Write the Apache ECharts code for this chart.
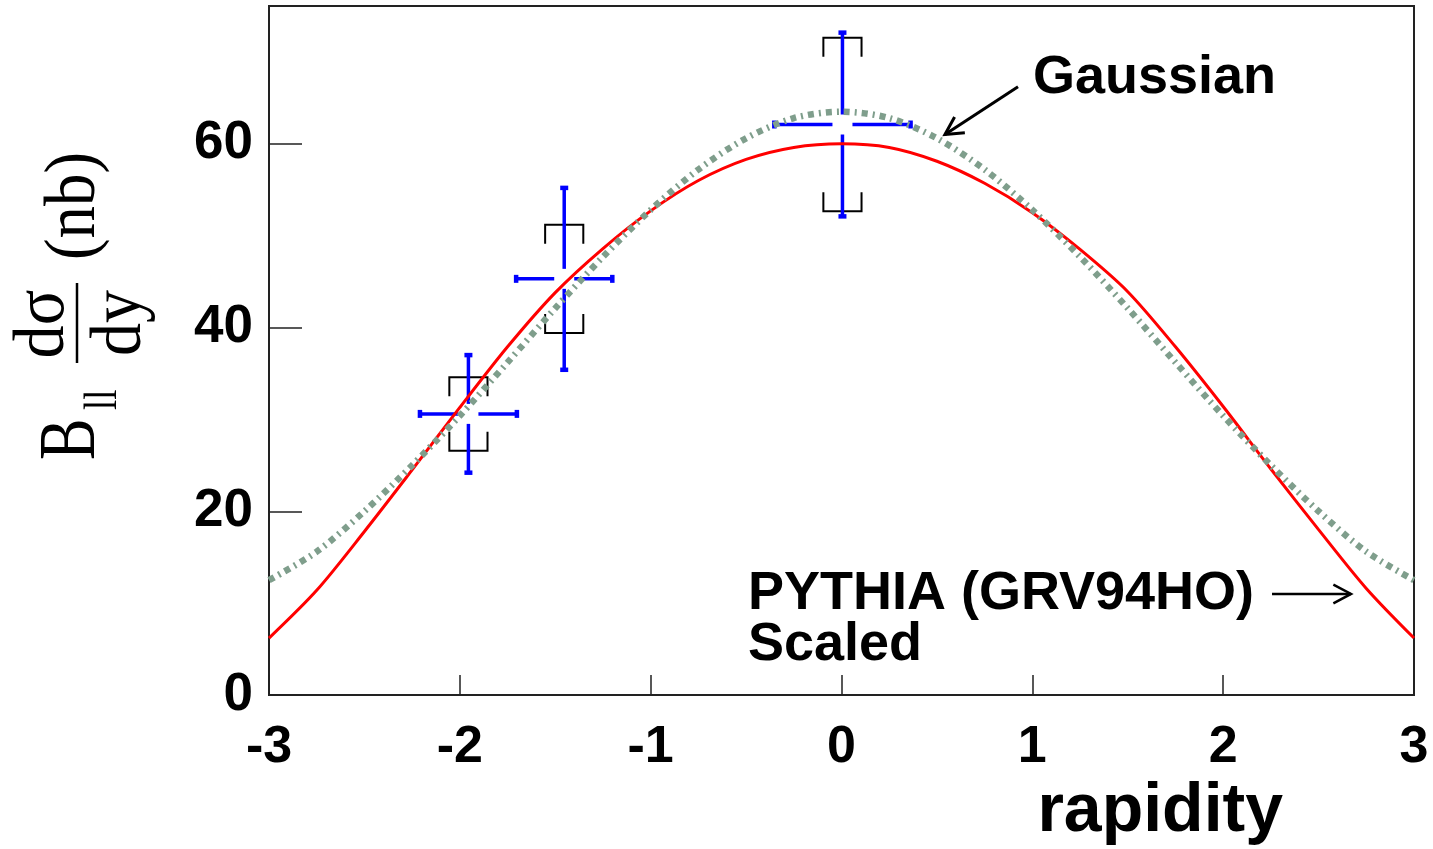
<!DOCTYPE html>
<html><head><meta charset="utf-8">
<script src="https://cdn.jsdelivr.net/npm/echarts@6/dist/echarts.min.js"></script>
<style>html,body{margin:0;padding:0;background:#fff;}#c{width:1433px;height:849px;}</style>
</head><body><div id="c"></div>
<script>
// ---- data ----
const curveX   = [-3,-2.75,-2.5,-2.25,-2,-1.75,-1.5,-1.25,-1,-0.75,-0.5,-0.25,0,0.25,0.5,0.75,1,1.25,1.5,1.75,2,2.25,2.5,2.75,3];
const pythiaY  = [6.2,11.4,17.8,24.5,31.3,37.9,43.8,48.6,52.7,56.0,58.3,59.6,60.0,59.6,58.1,55.7,52.5,48.5,43.9,37.9,31.4,24.6,18.0,11.6,6.2];
const gaussY   = [12.5,15.6,20.0,25.0,30.4,36.2,42.1,47.7,52.8,57.2,60.6,62.8,63.5,62.8,60.6,57.2,52.8,47.7,42.1,36.2,30.4,25.0,20.0,15.6,12.5];
const pointX    = [-1.955,-1.453,0.005];
const pointY    = [30.6,45.3,62.1];
const pointXErr = [0.254,0.252,0.357];
const statErr   = [6.4,9.9,10.0];
const sysErr    = [4.0,5.9,9.45];
const xTicks = [-3,-2,-1,0,1,2,3];
const xTickLabels = ['-3','-2','-1','0','1','2','3'];
const yTicks = [0,20,40,60];
const yTickLabels = ['0','20','40','60'];
const xTitle = 'rapidity';
const gaussLabel = 'Gaussian';
const pythiaLabel1 = 'PYTHIA (GRV94HO)';
const pythiaLabel2 = 'Scaled';

const FONT = '"Liberation Sans", Arial, Helvetica, sans-serif';
const SERIF = '"Liberation Serif", "Times New Roman", serif';

const chart = echarts.init(document.getElementById('c'), null, {renderer:'canvas'});

function renderErr(params, api){
  const x = api.value(0), y = api.value(1), ex = api.value(2), es = api.value(3), esys = api.value(4);
  const c = api.coord([x,y]);
  const l = api.coord([x-ex,y]), r = api.coord([x+ex,y]);
  const t = api.coord([x,y+es]), b = api.coord([x,y-es]);
  const st = api.coord([x,y+esys]), sb = api.coord([x,y-esys]);
  const bw = api.size([0.1,0])[0];
  const gap = 10, cap = 4, arm = 19;
  const blue = {stroke:'#0000ff', lineWidth:3.5};
  const capS = {stroke:'#0000ff', lineWidth:4.5};
  const blk = {stroke:'#000', lineWidth:2, fill:null};
  const L = (x1,y1,x2,y2,s)=>({type:'line', shape:{x1,y1,x2,y2}, style:s});
  return {type:'group', children:[
    {type:'polyline', shape:{points:[[c[0]-bw, st[1]+arm],[c[0]-bw, st[1]],[c[0]+bw, st[1]],[c[0]+bw, st[1]+arm]]}, style:blk},
    {type:'polyline', shape:{points:[[c[0]-bw, sb[1]-arm],[c[0]-bw, sb[1]],[c[0]+bw, sb[1]],[c[0]+bw, sb[1]-arm]]}, style:blk},
    L(l[0],c[1],c[0]-gap,c[1],blue),
    L(c[0]+gap,c[1],r[0],c[1],blue),
    L(c[0],t[1],c[0],c[1]-gap,blue),
    L(c[0],c[1]+gap,c[0],b[1],blue),
    L(l[0],c[1]-cap,l[0],c[1]+cap,capS),
    L(r[0],c[1]-cap,r[0],c[1]+cap,capS),
    L(c[0]-cap,t[1],c[0]+cap,t[1],capS),
    L(c[0]-cap,b[1],c[0]+cap,b[1],capS)
  ]};
}

const option = {
  animation:false,
  backgroundColor:'#ffffff',
  grid:{left:269,right:19,top:6,bottom:154,show:true,borderColor:'#222',borderWidth:2,backgroundColor:'transparent'},
  xAxis:{
    type:'value',min:-3,max:3,interval:1,
    axisLine:{show:true,onZero:false,lineStyle:{color:'#222',width:2}},
    axisTick:{show:true,inside:true,length:20,lineStyle:{color:'#222',width:1.5},customValues:xTicks},
    axisLabel:{fontFamily:FONT,fontWeight:'bold',fontSize:52,color:'#000',margin:27,customValues:xTicks,
      formatter:v=>{const i=xTicks.indexOf(v);return i>=0?xTickLabels[i]:'';}},
    splitLine:{show:false}
  },
  yAxis:{
    type:'value',min:0,max:75,interval:20,
    axisLine:{show:true,onZero:false,lineStyle:{color:'#222',width:2}},
    axisTick:{show:true,inside:true,length:33,lineStyle:{color:'#222',width:1.5},customValues:yTicks},
    axisLabel:{fontFamily:FONT,fontWeight:'bold',fontSize:53,color:'#000',margin:16,customValues:yTicks,
      formatter:v=>{const i=yTicks.indexOf(v);return i>=0?yTickLabels[i]:'';}},
    splitLine:{show:false}
  },
  series:[
    {type:'custom',name:'data',renderItem:renderErr,z:2,clip:false,
     data:pointX.map((x,i)=>[x,pointY[i],pointXErr[i],statErr[i],sysErr[i]])},
    {type:'line',name:'PYTHIA',z:3,smooth:0.3,showSymbol:false,
     lineStyle:{color:'#ff0000',width:3},
     data:curveX.map((x,i)=>[x,pythiaY[i]])},
    {type:'line',name:'Gaussian',z:4,smooth:0.3,showSymbol:false,
     lineStyle:{color:'#7f9e8c',width:6.5,type:[6,5,2,5],cap:'butt'},
     data:curveX.map((x,i)=>[x,gaussY[i]])}
  ]
};
chart.setOption(option);

// ---- annotations ----
const P = (x,y)=>chart.convertToPixel({gridIndex:0},[x,y]);
function arrow(tail, tip, w){
  const dx = tip[0]-tail[0], dy = tip[1]-tail[1], len = Math.hypot(dx,dy);
  const ux = dx/len, uy = dy/len, Lh = 20, th = 28*Math.PI/180;
  const a1 = [tip[0]-Lh*(ux*Math.cos(th)-uy*Math.sin(th)), tip[1]-Lh*(uy*Math.cos(th)+ux*Math.sin(th))];
  const a2 = [tip[0]-Lh*(ux*Math.cos(th)+uy*Math.sin(th)), tip[1]-Lh*(uy*Math.cos(th)-ux*Math.sin(th))];
  return [
    {type:'line',shape:{x1:tail[0],y1:tail[1],x2:tip[0],y2:tip[1]},style:{stroke:'#000',lineWidth:w},z:10},
    {type:'polyline',shape:{points:[a1,tip,a2]},style:{stroke:'#000',lineWidth:w,fill:null},z:10}
  ];
}
const gTail = P(0.925,66.2), gTip = P(0.542,61.0);
const pTail = P(2.256,11.0), pTip = P(2.67,11.0);

const T = (text,x,y,size,align)=>({type:'text',z:10,style:{text,x,y,font:'bold '+size+'px '+FONT,fill:'#000',textAlign:align,textVerticalAlign:'middle'}});

// y-axis title, rotated; v = baseline - 0.8*size (top-aligned boxes)
const ST = (text,u,base,size,align,sx)=>({type:'text',x:u,y:base-0.8*size,scaleX:sx||1,style:{text,x:0,y:0,font:size+'px '+SERIF,fill:'#000',textAlign:align,textVerticalAlign:'top'}});
const yTitle = {type:'group',x:0,y:470,rotation:Math.PI/2,z:10,children:[
  ST('B',10,97,80,'left',0.78),
  ST('ll',60,118,46,'left',0.8),
  ST('d\u03c3',146,66,72,'center',0.92),
  {type:'line',shape:{x1:107,y1:77,x2:187,y2:77},style:{stroke:'#000',lineWidth:2.5}},
  ST('dy',147,143,72,'center',0.92),
  ST('(nb)',210,97,72,'left',0.9)
]};

chart.setOption({graphic:[
  T(gaussLabel,1033,78,54,'left'),
  T(pythiaLabel1,748,594,54,'left'),
  T(pythiaLabel2,748,645,54,'left'),
  T(xTitle,1283,812,68,'right'),
  ...arrow(gTail,gTip,3),
  ...arrow(pTail,pTip,2.5),
  yTitle
]});
</script>
</body></html>
